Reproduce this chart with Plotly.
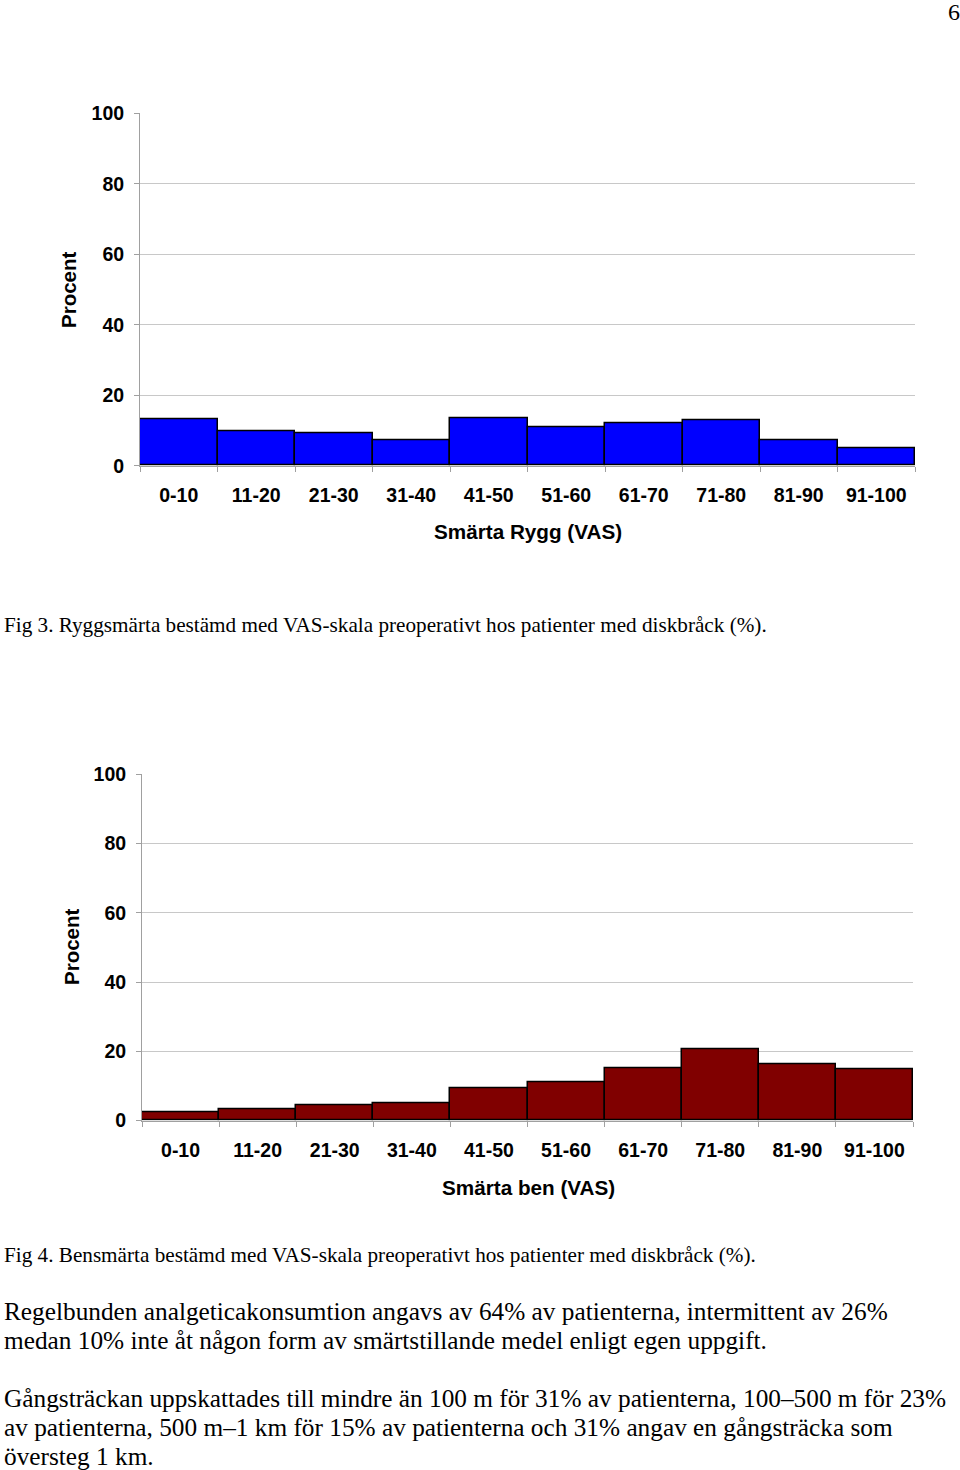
import plotly.graph_objects as go

categories = ["0-10", "11-20", "21-30", "31-40", "41-50", "51-60", "61-70", "71-80", "81-90", "91-100"]
rygg_values = [13.2, 9.9, 9.1, 7.3, 13.5, 10.8, 12.1, 12.8, 7.3, 5.0]
ben_values = [2.4, 3.3, 4.3, 5.1, 9.3, 11.1, 15.2, 20.7, 16.1, 14.9]
y_ticks = [0, 20, 40, 60, 80, 100]

W, H = 960, 1470

def px(x):
    return x / W

def py(y):
    return 1 - y / H

fig = go.Figure()
fig.add_trace(go.Bar(x=categories, y=rygg_values, marker=dict(color="#0000FF", line=dict(color="#000000", width=1.5)),
                     xaxis="x", yaxis="y", showlegend=False))
fig.add_trace(go.Bar(x=categories, y=ben_values, marker=dict(color="#800000", line=dict(color="#000000", width=1.5)),
                     xaxis="x2", yaxis="y2", showlegend=False))

sans = "Liberation Sans, Arial, sans-serif"
serif = "Liberation Serif, Times New Roman, serif"
tickfont = dict(family=sans, size=19.5, color="#000000", weight="bold")

xcommon = dict(showline=True, linecolor="#a0a0a0", linewidth=1, ticks="outside", tickson="boundaries",
               ticklen=5, tickcolor="#a0a0a0", tickfont=tickfont, showgrid=False, ticklabelstandoff=12,
               fixedrange=True)
ycommon = dict(range=[0, 100], tickvals=y_ticks, showline=True, linecolor="#a0a0a0", linewidth=1,
               ticks="outside", ticklen=5, tickcolor="#a0a0a0", tickfont=tickfont, showgrid=True,
               gridcolor="#c8c8c8", gridwidth=1, zeroline=False, ticklabelstandoff=6, fixedrange=True)

fig.update_layout(
    width=W, height=H,
    margin=dict(l=0, r=0, t=0, b=0, pad=0, autoexpand=False),
    paper_bgcolor="white", plot_bgcolor="white",
    bargap=0,
    xaxis=dict(domain=[px(140), px(915)], anchor="y", **xcommon),
    yaxis=dict(domain=[py(465.7), py(113.3)], anchor="x", **ycommon),
    xaxis2=dict(domain=[px(142), px(913)], anchor="y2", **xcommon),
    yaxis2=dict(domain=[py(1120.5), py(774.3)], anchor="x2", **ycommon),
)

anns = []
def text(t, x, y, size, family, xanchor="left", bold=False, angle=0):
    anns.append(dict(text=t, x=px(x), y=py(y), xref="paper", yref="paper", xanchor=xanchor, yanchor="middle",
                     showarrow=False, textangle=angle, borderpad=0,
                     font=dict(family=family, size=size, color="#000000", weight="bold" if bold else "normal")))

text("6", 954, 12, 24, serif, xanchor="center")
text("Procent", 68, 290, 20.5, sans, xanchor="center", bold=True, angle=-90)
text("Smärta Rygg (VAS)", 528, 531, 20.7, sans, xanchor="center", bold=True)
text("Fig 3. Ryggsmärta bestämd med VAS-skala preoperativt hos patienter med diskbråck (%).", 3, 625, 21.2, serif)
text("Procent", 71, 947, 20.5, sans, xanchor="center", bold=True, angle=-90)
text("Smärta ben (VAS)", 528, 1187, 20.7, sans, xanchor="center", bold=True)
text("Fig 4. Bensmärta bestämd med VAS-skala preoperativt hos patienter med diskbråck (%).", 3, 1255, 21.2, serif)
body = [
    ("Regelbunden analgeticakonsumtion angavs av 64% av patienterna, intermittent av 26%", 1311),
    ("medan 10% inte åt någon form av smärtstillande medel enligt egen uppgift.", 1340),
    ("Gångsträckan uppskattades till mindre än 100 m för 31% av patienterna, 100–500 m för 23%", 1398),
    ("av patienterna, 500 m–1 km för 15% av patienterna och 31% angav en gångsträcka som", 1427),
    ("översteg 1 km.", 1456),
]
for t, y in body:
    text(t, 3, y, 25.3, serif)

fig.update_layout(annotations=anns)
fig.write_html("out.html")
